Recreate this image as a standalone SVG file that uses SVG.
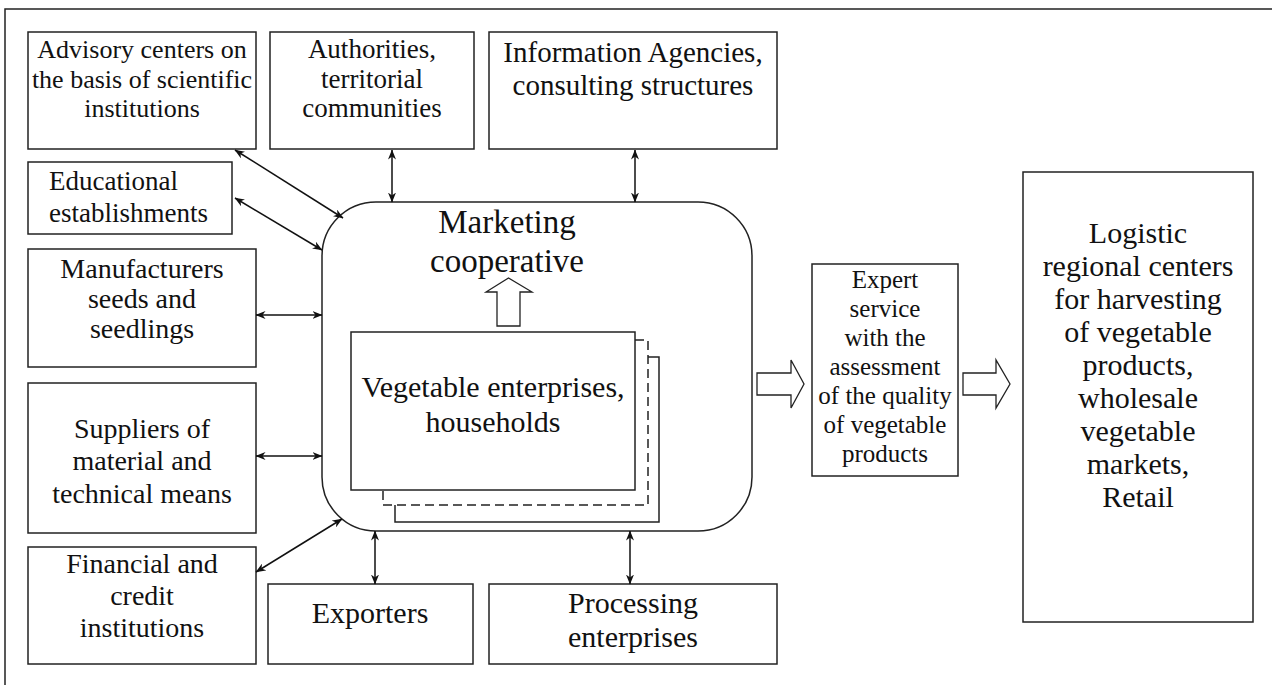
<svg xmlns="http://www.w3.org/2000/svg" width="1272" height="685" viewBox="0 0 1272 685">
<style>
.b{fill:#fff;stroke:#222;stroke-width:1.5}
.t{font-family:'Liberation Serif','Times New Roman',Tinos,'DejaVu Serif','Noto Serif',serif;fill:#111;text-anchor:middle}
.c{stroke:#111;stroke-width:1.5;fill:none;marker-start:url(#a);marker-end:url(#a)}
.h{fill:#fff;stroke:#222;stroke-width:1.3}
</style>
<defs>
<marker id="a" viewBox="0 0 10 8" refX="9.5" refY="4" markerWidth="10" markerHeight="8" markerUnits="userSpaceOnUse" orient="auto-start-reverse">
<path d="M0,0 L10,4 L0,8 L3,4 z" fill="#111"/>
</marker>
</defs>
<rect width="1272" height="685" fill="#fff"/>
<path d="M5,685 V9 H1272" fill="none" stroke="#222" stroke-width="1.5"/>

<g id="advisory"><rect class="b" x="28" y="32" width="228" height="117"/>
<text class="t" font-family="Liberation Serif, serif" font-size="26"><tspan x="142" y="58">Advisory centers on</tspan><tspan x="142" y="88">the basis of scientific</tspan><tspan x="142" y="117">institutions</tspan></text></g>

<g id="authorities"><rect class="b" x="270" y="32" width="204" height="117"/>
<text class="t" font-family="Liberation Serif, serif" font-size="27"><tspan x="372" y="58">Authorities,</tspan><tspan x="372" y="88">territorial</tspan><tspan x="372" y="117">communities</tspan></text></g>

<g id="information"><rect class="b" x="489" y="32" width="288" height="117"/>
<text class="t" font-family="Liberation Serif, serif" font-size="29"><tspan x="633" y="62">Information Agencies,</tspan><tspan x="633" y="95">consulting structures</tspan></text></g>

<g id="educational"><rect class="b" x="28" y="162" width="204" height="72"/>
<text class="t" font-family="Liberation Serif, serif" font-size="27" style="text-anchor:start"><tspan x="49" y="190">Educational</tspan><tspan x="49" y="222">establishments</tspan></text></g>

<g id="manufacturers"><rect class="b" x="28" y="249" width="228" height="118"/>
<text class="t" font-family="Liberation Serif, serif" font-size="28"><tspan x="142" y="278">Manufacturers</tspan><tspan x="142" y="308">seeds and</tspan><tspan x="142" y="338">seedlings</tspan></text></g>

<g id="suppliers"><rect class="b" x="28" y="383" width="228" height="150"/>
<text class="t" font-family="Liberation Serif, serif" font-size="28"><tspan x="142" y="438">Suppliers of</tspan><tspan x="142" y="470">material and</tspan><tspan x="142" y="503">technical means</tspan></text></g>

<g id="financial"><rect class="b" x="28" y="547" width="228" height="117"/>
<text class="t" font-family="Liberation Serif, serif" font-size="28"><tspan x="142" y="573">Financial and</tspan><tspan x="142" y="605">credit</tspan><tspan x="142" y="637">institutions</tspan></text></g>

<g id="exporters"><rect class="b" x="268" y="584" width="205" height="80"/>
<text class="t" font-family="Liberation Serif, serif" font-size="30" x="370" y="623">Exporters</text></g>

<g id="processing"><rect class="b" x="489" y="584" width="288" height="80"/>
<text class="t" font-family="Liberation Serif, serif" font-size="30"><tspan x="633" y="613">Processing</tspan><tspan x="633" y="647">enterprises</tspan></text></g>

<g id="marketing"><rect class="b" x="322" y="202" width="430" height="329" rx="54" ry="54"/>
<text class="t" font-family="Liberation Serif, serif" font-size="33"><tspan x="507" y="233">Marketing</tspan><tspan x="507" y="272">cooperative</tspan></text>
<path class="h" d="M497,326 V292 H486 L508.5,278 L532,292 H520 V326 z"/></g>

<g id="vegetable">
<path d="M648,357 H659 V522 H395 V505" fill="none" stroke="#222" stroke-width="1.5"/>
<path d="M635,340 H648 V505 H383 V490" fill="none" stroke="#222" stroke-width="1.5" stroke-dasharray="9,5"/>
<rect class="b" x="351" y="332" width="284" height="158"/>
<text class="t" font-family="Liberation Serif, serif" font-size="30"><tspan x="493" y="397">Vegetable enterprises,</tspan><tspan x="493" y="432">households</tspan></text></g>

<g id="expert"><rect class="b" x="812" y="264" width="146" height="212"/>
<text class="t" font-family="Liberation Serif, serif" font-size="25"><tspan x="885" y="288">Expert</tspan><tspan x="885" y="317">service</tspan><tspan x="885" y="346">with the</tspan><tspan x="885" y="375">assessment</tspan><tspan x="885" y="404">of the quality</tspan><tspan x="885" y="433">of vegetable</tspan><tspan x="885" y="462">products</tspan></text></g>

<g id="logistic"><rect class="b" x="1023" y="172" width="230" height="450"/>
<text class="t" font-family="Liberation Serif, serif" font-size="30"><tspan x="1138" y="243">Logistic</tspan><tspan x="1138" y="276">regional centers</tspan><tspan x="1138" y="309">for harvesting</tspan><tspan x="1138" y="342">of vegetable</tspan><tspan x="1138" y="375">products,</tspan><tspan x="1138" y="408">wholesale</tspan><tspan x="1138" y="441">vegetable</tspan><tspan x="1138" y="474">markets,</tspan><tspan x="1138" y="507">Retail</tspan></text></g>

<g id="connectors">
<line class="c" x1="235" y1="150" x2="343" y2="218"/>
<line class="c" x1="235" y1="198" x2="322" y2="250"/>
<line class="c" x1="392" y1="150" x2="392" y2="202"/>
<line class="c" x1="635" y1="150" x2="635" y2="202"/>
<line class="c" x1="256" y1="315" x2="322" y2="315"/>
<line class="c" x1="256" y1="456" x2="322" y2="456"/>
<line class="c" x1="256" y1="572" x2="342" y2="519"/>
<line class="c" x1="375" y1="531" x2="375" y2="584"/>
<line class="c" x1="630" y1="531" x2="630" y2="584"/>
<path class="h" d="M757,373 H791 V360 L804,384 L791,408 V395 H757 z"/>
<path class="h" d="M963,373 H996 V360 L1010,384 L996,408 V395 H963 z"/>
</g>
</svg>
